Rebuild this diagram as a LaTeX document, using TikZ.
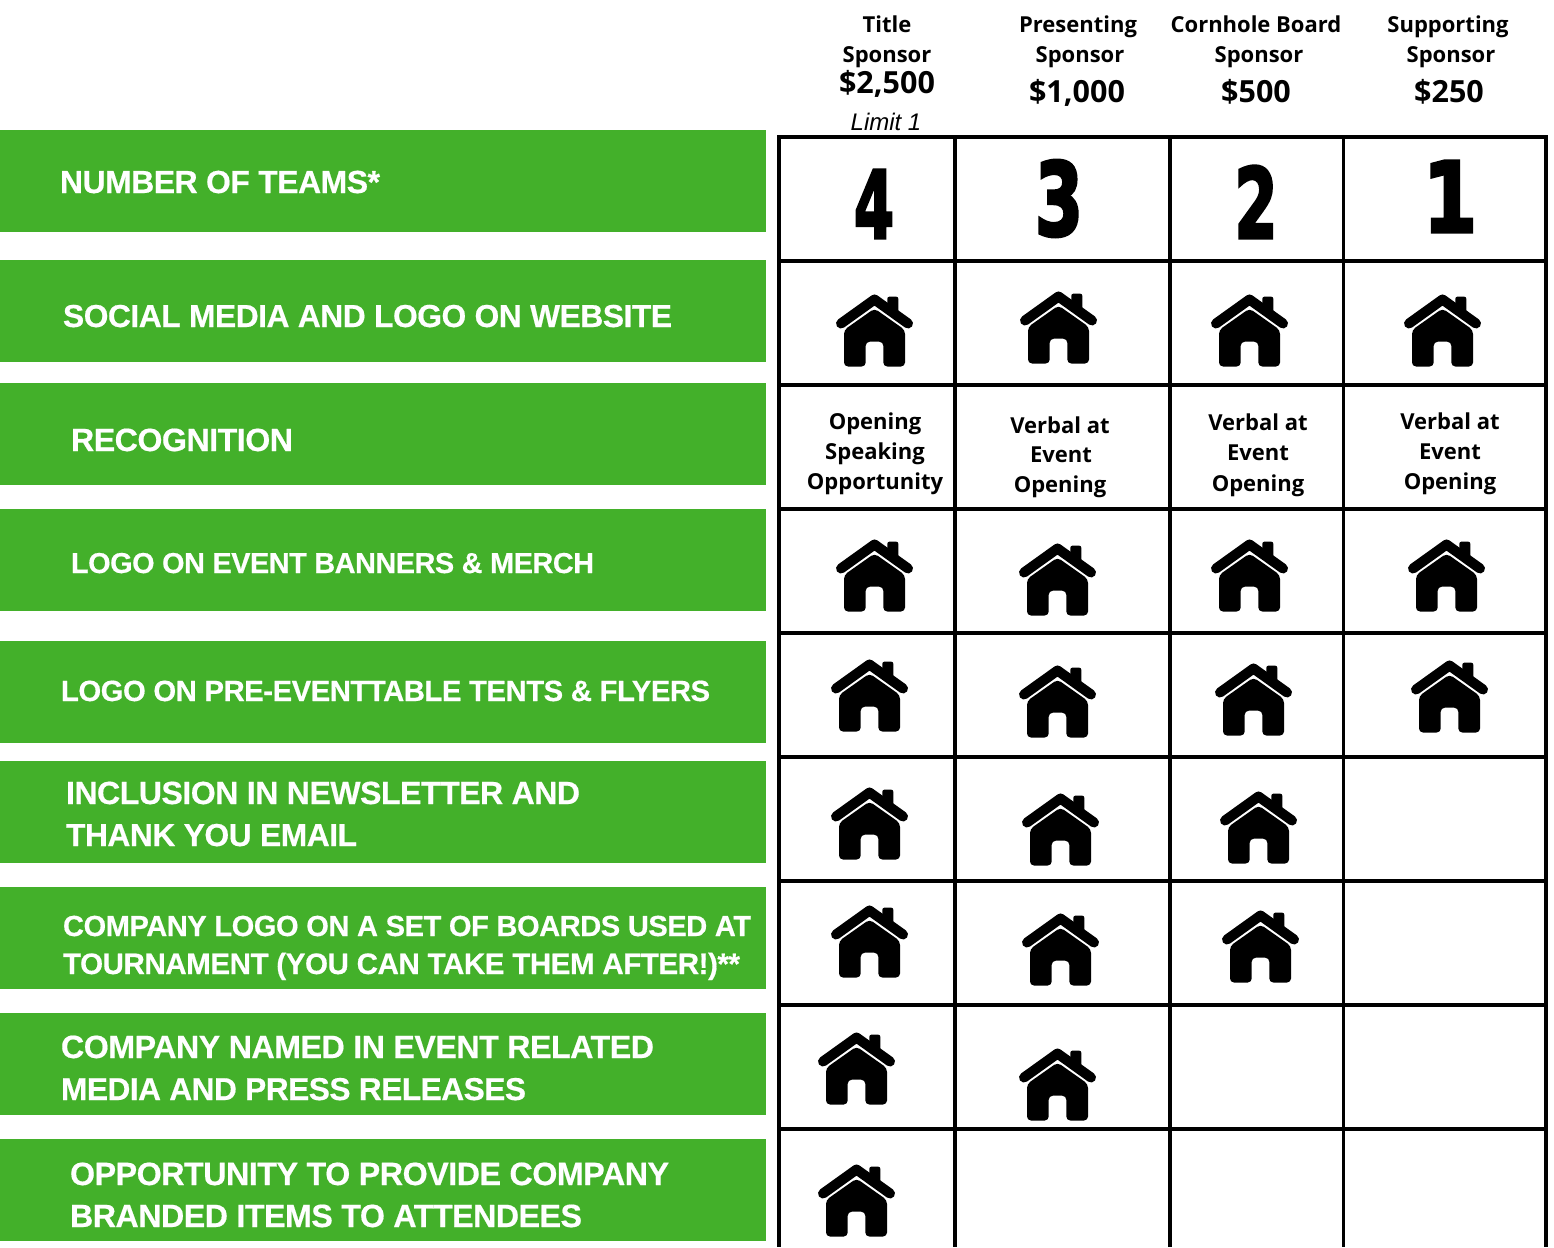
\documentclass[tikz,border=0pt]{standalone}
\usepackage{fontspec}
\usepackage{graphicx}
\setmainfont{Liberation Sans}
\newfontfamily\headf{Open Sans}[BoldFont={Open Sans Bold}]
\newfontfamily\numf{DejaVu Sans}[BoldFont={DejaVu Sans Bold},BoldFeatures={FakeBold=3.5}]
\newfontfamily\lblf{Liberation Sans}[BoldFeatures={FakeBold=0.5,LetterSpace=-1.5}]
\definecolor{barg}{HTML}{43B02A}
\newcommand{\fitw}[2]{\resizebox{#1pt}{!}{\lblf\fontsize{31}{31}\selectfont\bfseries #2}}
\newcommand{\bignum}[3]{\resizebox{#1pt}{#2pt}{\numf\bfseries #3}}
\tikzset{
  x=1pt,y=-1pt,
  bar/.style={fill=barg,draw=none},
  gridline/.style={line width=3.7pt,black,line cap=rect},
  lbl/.style={anchor=base west,inner sep=0pt,outer sep=0pt,white},
  hd/.style={inner sep=0pt,outer sep=0pt,font=\headf\bfseries\fontsize{22}{22}\selectfont,black,anchor=base},
  price/.style={inner sep=0pt,outer sep=0pt,font=\headf\bfseries\fontsize{30.5}{30.5}\selectfont,black,anchor=base},
  cell/.style={inner sep=0pt,outer sep=0pt,font=\headf\bfseries\fontsize{22}{22}\selectfont,black,anchor=base},
  housepic/.pic={
    \draw[line width=10pt,line cap=round,line join=round] (5,29.5)--(38.5,5.5)--(72,29.5);
    \fill[rounded corners=2pt] (51.3,16)--(51.3,2.7)--(62.3,2.7)--(62.3,24)--cycle;
    \fill[rounded corners=4pt] (8,36)--(38.5,14.5)--(69,36)--(69,72.5)--(47.3,72.5)--(47.3,47.7)--(29.7,47.7)--(29.7,72.5)--(8,72.5)--cycle;
  }
}
\begin{document}
\begin{tikzpicture}
\useasboundingbox (0,0) rectangle (1554,1247);
\fill[white] (0,0) rectangle (1554,1247);
% bars
\foreach \t in {130,260,383,509,641,761,887,1013,1139}
  \fill[bar] (0,\t) rectangle (766,\t+102);
% grid
\foreach \yy in {137,261.3,385.3,509.3,633.3,757.3,881.3,1005.3,1129.3}
  \draw[gridline] (779,\yy)--(1546,\yy);
\foreach \xx in {779,955,1170,1343.5,1546}
  \draw[gridline,line cap=butt] (\xx,137)--(\xx,1247);
% labels
\node[lbl] (l1) at (60,193) {\fitw{320}{NUMBER OF TEAMS*}};
\node[lbl] (l2) at (63,327) {\fitw{609}{SOCIAL MEDIA AND LOGO ON WEBSITE}};
\node[lbl] (l3) at (71,451) {\fitw{222}{RECOGNITION}};
\node[lbl] (l4) at (71,573) {\fitw{523}{LOGO ON EVENT BANNERS \& MERCH}};
\node[lbl] (l5) at (61,701) {\fitw{649}{LOGO ON PRE-EVENTTABLE TENTS \& FLYERS}};
\node[lbl] (l6a) at (66,804) {\fitw{514}{INCLUSION IN NEWSLETTER AND}};
\node[lbl] (l6b) at (66,846) {\fitw{291}{THANK YOU EMAIL}};
\node[lbl] (l7a) at (63,936) {\fitw{688}{COMPANY LOGO ON A SET OF BOARDS USED AT}};
\node[lbl] (l7b) at (63,974) {\fitw{677}{TOURNAMENT (YOU CAN TAKE THEM AFTER!)**}};
\node[lbl] (l8a) at (61,1058) {\fitw{593}{COMPANY NAMED IN EVENT RELATED}};
\node[lbl] (l8b) at (61,1100) {\fitw{465}{MEDIA AND PRESS RELEASES}};
\node[lbl] (l9a) at (70,1185) {\fitw{599}{OPPORTUNITY TO PROVIDE COMPANY}};
\node[lbl] (l9b) at (70,1227) {\fitw{512}{BRANDED ITEMS TO ATTENDEES}};
% headers
\node[hd] (h1a) at (887,33) {Title};
\node[hd] (h1b) at (887,63) {Sponsor};
\node[price] (p1) at (887,93) {\$2,500};
\node[inner sep=0pt,anchor=base,font=\itshape\fontsize{24}{24}\selectfont] (lim) at (886,130) {Limit 1};
\node[hd] (h2a) at (1078,33) {Presenting};
\node[hd] (h2b) at (1080,63) {Sponsor};
\node[price] (p2) at (1077,102) {\$1,000};
\node[hd] (h3a) at (1256,33) {Cornhole Board};
\node[hd] (h3b) at (1259,63) {Sponsor};
\node[price] (p3) at (1256,102) {\$500};
\node[hd] (h4a) at (1448,33) {Supporting};
\node[hd] (h4b) at (1451,63) {Sponsor};
\node[price] (p4) at (1449,102) {\$250};
% digits
\node[inner sep=0pt] (n4) at (874,204) {\bignum{40}{68}{4}};
\node[inner sep=0pt] (n3) at (1059,198.5) {\bignum{48}{75}{3}};
\node[inner sep=0pt] (n2) at (1256,202) {\bignum{43}{72}{2}};
\node[inner sep=0pt] (n1) at (1450,196.5) {\bignum{54}{71}{1}};
% recognition cells
\node[cell] (c1a) at (875,429) {Opening};
\node[cell] (c1b) at (875,459) {Speaking};
\node[cell] (c1c) at (875,489) {Opportunity};
\node[cell] (c2a) at (1060,433) {Verbal at};
\node[cell] (c2b) at (1061,462) {Event};
\node[cell] (c2c) at (1060,492) {Opening};
\node[cell] (c3a) at (1258,430) {Verbal at};
\node[cell] (c3b) at (1258,460) {Event};
\node[cell] (c3c) at (1258,491) {Opening};
\node[cell] (c4a) at (1450,429) {Verbal at};
\node[cell] (c4b) at (1450,459) {Event};
\node[cell] (c4c) at (1450,489) {Opening};
% houses
\foreach \hx/\hy in {836/294,1020/291,1211/294,1404/294,
  836/539,1019/543,1211/539,1408/539,
  831/659,1019/665,1215/663,1411/660,
  831/787,1022/793,1220/791,
  831/905,1022/913,1222/910,
  818/1032,1019/1048,
  818/1164}
  \pic at (\hx,\hy) {housepic};
\end{tikzpicture}
\end{document}
